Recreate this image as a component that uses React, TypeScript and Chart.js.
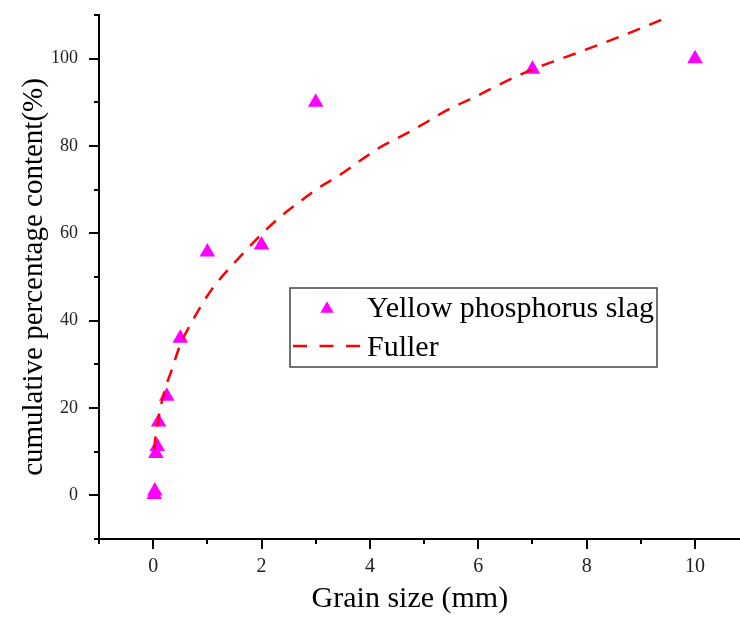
import React, { useEffect, useRef } from 'react';
import { Chart, registerables } from 'chart.js';

Chart.register(...registerables);

// ---- data ----
const slagSize = [0.02, 0.03, 0.05, 0.075, 0.1, 0.25, 0.5, 1, 2, 3, 7, 10];
const slagPassing = [0.2, 1.0, 9.6, 11.2, 16.8, 22.7, 36.0, 55.7, 57.3, 90.0, 97.6, 100];

const fullerSize = [0.02, 0.04, 0.1, 0.2, 0.35, 0.5, 0.75, 1, 1.25, 1.6, 1.95, 2.3, 2.7, 3.05, 3.45, 3.85, 4.2, 4.65, 5.05, 5.45, 5.9, 6.3, 6.75, 7.05, 7.6, 7.95, 8.4, 8.85, 9.3, 9.45];
const fullerPassing = [10.5, 13, 17.8, 23.5, 29, 34.5, 40.5, 45.7, 49.8, 54.6, 59.2, 63.3, 67.2, 70.4, 73.4, 76.9, 79.8, 82.7, 85.5, 88.4, 91, 93.5, 96.2, 97.8, 100.3, 101.9, 104, 106.2, 108.5, 109.3];

const xMajorTicks = [0, 2, 4, 6, 8, 10];
const xMinorTicks = [-1, 1, 3, 5, 7, 9];
const yMajorTicks = [0, 20, 40, 60, 80, 100];
const yMinorTicks = [-10, 10, 30, 50, 70, 90, 110];

const xLimits = [-1, 10.83];
const yLimits = [-10, 110];

const seriesLabels = ['Yellow phosphorus slag', 'Fuller'];
const xTitle = 'Grain size (mm)';
const yTitle = 'cumulative percentage content(%)';

const SERIF = "'Liberation Serif', 'Times New Roman', Times, serif";
const MAGENTA = '#ff00ff';
const RED = '#ff0000';

function drawTriangle(ctx: CanvasRenderingContext2D, x: number, y: number, r: number) {
  ctx.beginPath();
  ctx.moveTo(x, y - r);
  ctx.lineTo(x + r * Math.sin((2 * Math.PI) / 3), y - r * Math.cos((2 * Math.PI) / 3));
  ctx.lineTo(x + r * Math.sin((4 * Math.PI) / 3), y - r * Math.cos((4 * Math.PI) / 3));
  ctx.closePath();
  ctx.fill();
}

const decorPlugin = {
  id: 'decor',
  afterDraw(chart: any) {
    const ctx: CanvasRenderingContext2D = chart.ctx;
    const ca = chart.chartArea;
    const xs = chart.scales.x;
    const ys = chart.scales.y;
    ctx.save();
    ctx.strokeStyle = '#000';
    ctx.lineCap = 'butt';

    // tick marks (outward)
    const drawX = (vals: number[], len: number, w: number) => {
      ctx.lineWidth = w;
      vals.forEach((v) => {
        const px = Math.round(xs.getPixelForValue(v));
        ctx.beginPath();
        ctx.moveTo(px, ca.bottom);
        ctx.lineTo(px, ca.bottom + len);
        ctx.stroke();
      });
    };
    const drawY = (vals: number[], len: number, w: number) => {
      ctx.lineWidth = w;
      vals.forEach((v) => {
        const py = Math.round(ys.getPixelForValue(v));
        ctx.beginPath();
        ctx.moveTo(ca.left, py);
        ctx.lineTo(ca.left - len, py);
        ctx.stroke();
      });
    };
    drawX(xMajorTicks, 10, 2);
    drawX(xMinorTicks, 5, 2);
    drawY(yMajorTicks, 10, 2);
    drawY(yMinorTicks, 5, 2);

    // x axis title
    ctx.fillStyle = '#000';
    ctx.font = `30px ${SERIF}`;
    ctx.textAlign = 'center';
    ctx.textBaseline = 'alphabetic';
    ctx.fillText(xTitle, ca.left + (ca.right - ca.left) * 0.485, 607);

    // legend
    const bx = ca.left + 191;
    const by = ca.top + 273;
    const bw = 367;
    const bh = 79;
    ctx.fillStyle = '#fff';
    ctx.fillRect(bx, by, bw, bh);
    ctx.strokeStyle = '#444';
    ctx.lineWidth = 1.5;
    ctx.strokeRect(bx, by, bw, bh);

    const ds = chart.data.datasets;
    ctx.fillStyle = MAGENTA;
    drawTriangle(ctx, bx + 37, by + 21, 7.7);
    ctx.strokeStyle = RED;
    ctx.lineWidth = 2.5;
    ctx.setLineDash([14, 12.5]);
    ctx.beginPath();
    ctx.moveTo(bx + 3, by + 58);
    ctx.lineTo(bx + 70, by + 58);
    ctx.stroke();
    ctx.setLineDash([]);

    ctx.fillStyle = '#000';
    ctx.font = `30px ${SERIF}`;
    ctx.textAlign = 'left';
    ctx.textBaseline = 'alphabetic';
    ctx.fillText(ds[0].label, bx + 77, by + 29);
    ctx.fillText(ds[1].label, bx + 77, by + 68);
    ctx.restore();
  },
};

export default function App() {
  const canvasRef = useRef<HTMLCanvasElement | null>(null);

  useEffect(() => {
    document.body.style.margin = '0';
    const canvas = canvasRef.current;
    if (!canvas) return;

    const zeroPad = (s: any) => {
      s.paddingTop = 0;
      s.paddingBottom = 0;
      s.paddingLeft = 0;
      s.paddingRight = 0;
    };

    const chart = new Chart(canvas, {
      type: 'scatter',
      data: {
        datasets: [
          {
            label: seriesLabels[0],
            data: slagSize.map((x, i) => ({ x, y: slagPassing[i] })),
            pointStyle: 'triangle',
            pointRadius: 9,
            pointHoverRadius: 9,
            backgroundColor: MAGENTA,
            borderColor: MAGENTA,
            borderWidth: 0,
            showLine: false,
            order: 2,
          },
          {
            label: seriesLabels[1],
            type: 'line',
            data: fullerSize.map((x, i) => ({ x, y: fullerPassing[i] })),
            showLine: true,
            borderColor: RED,
            borderWidth: 2.5,
            borderDash: [13, 10],
            pointRadius: 0,
            fill: false,
            cubicInterpolationMode: 'monotone',
            order: 1,
          } as any,
        ],
      },
      options: {
        responsive: false,
        animation: false,
        layout: { autoPadding: false, padding: { top: 15, right: 0, left: 0, bottom: 0 } },
        plugins: {
          legend: { display: false },
          tooltip: { enabled: false },
        },
        scales: {
          x: {
            type: 'linear',
            position: 'bottom',
            min: xLimits[0],
            max: xLimits[1],
            border: { display: true, color: '#000', width: 2 },
            grid: {
              display: true,
              drawOnChartArea: false,
              drawTicks: true,
              tickLength: 10,
              color: 'rgba(0,0,0,0)',
            },
            ticks: {
              padding: 6,
              color: '#222',
              font: { family: SERIF, size: 20 },
              maxRotation: 0,
              callback: (v: any) => String(v),
            },
            afterBuildTicks: (s: any) => {
              s.ticks = xMajorTicks.map((v) => ({ value: v }));
            },
            afterFit: (s: any) => {
              s.height = 82;
              zeroPad(s);
            },
          },
          y: {
            type: 'linear',
            position: 'left',
            min: yLimits[0],
            max: yLimits[1],
            border: { display: true, color: '#000', width: 2 },
            grid: {
              display: true,
              drawOnChartArea: false,
              drawTicks: true,
              tickLength: 10,
              color: 'rgba(0,0,0,0)',
            },
            ticks: {
              padding: 11,
              color: '#222',
              font: { family: SERIF, size: 18 },
              callback: (v: any) => String(v),
            },
            afterBuildTicks: (s: any) => {
              s.ticks = yMajorTicks.map((v) => ({ value: v }));
            },
            afterFit: (s: any) => {
              s.width = 99;
              zeroPad(s);
            },
            title: {
              display: true,
              text: yTitle,
              color: '#000',
              font: { family: SERIF, size: 29 },
              padding: { top: 17, bottom: 0 },
            },
          },
        },
      },
      plugins: [decorPlugin],
    });

    return () => {
      chart.destroy();
    };
  }, []);

  return (
    <div style={{ width: 740, height: 621, overflow: 'hidden' }}>
      <canvas ref={canvasRef} width={740} height={621} style={{ display: 'block' }} />
    </div>
  );
}
